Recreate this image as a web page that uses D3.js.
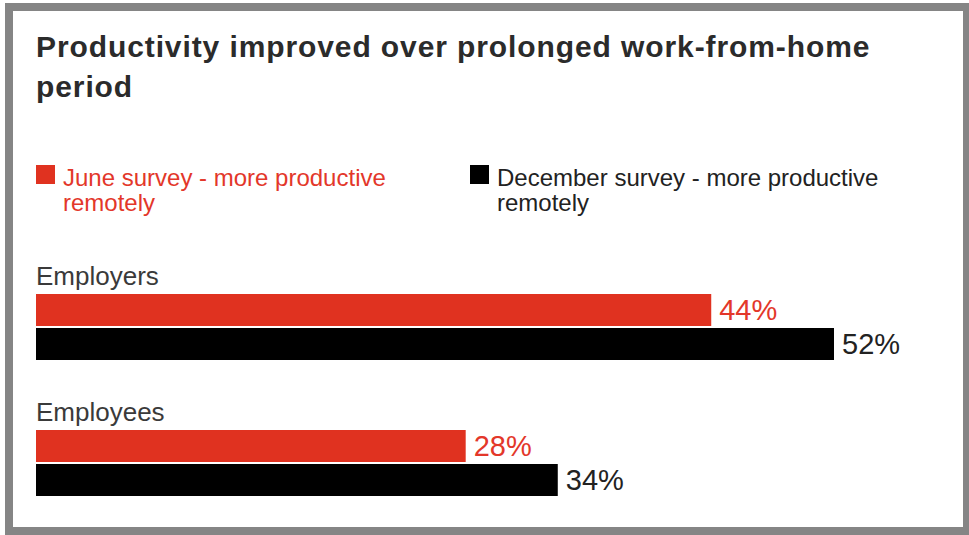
<!DOCTYPE html>
<html>
<head>
<meta charset="utf-8">
<script src="https://cdn.jsdelivr.net/npm/d3@7"></script>
<style>
  html, body { margin: 0; padding: 0; background: #fff; }
  svg { display: block; }
</style>
</head>
<body>
<div id="chart"></div>
<script>
// chart data
const categories = ["Employers", "Employees"];
const seriesNames = ["June survey - more productive remotely", "December survey - more productive remotely"];
const juneValues = [44, 28];
const decemberValues = [52, 34];
const seriesColors = ["#e03220", "#000000"];
const labelColors = ["#e3372a", "#222222"];

const width = 969, height = 535;

const svg = d3.select("#chart")
  .append("svg")
  .attr("width", width)
  .attr("height", height);

// grey frame
svg.append("rect")
  .attr("x", 9).attr("y", 7)
  .attr("width", 958).attr("height", 524)
  .attr("fill", "#fff")
  .attr("stroke", "#858585")
  .attr("stroke-width", 8);

// title
const title = svg.append("text")
  .attr("x", 36)
  .attr("font-family", "Liberation Sans, Arial, sans-serif")
  .attr("font-weight", "bold")
  .attr("font-size", "30px")
  .attr("letter-spacing", "0.9px")
  .attr("fill", "#2b2b2b");
title.append("tspan").attr("x", 36).attr("y", 57).text("Productivity improved over prolonged work-from-home");
title.append("tspan").attr("x", 36).attr("y", 97).text("period");

// legend
const legendX = [36, 470];
const legendLines = [["June survey - more productive", "remotely"], ["December survey - more productive", "remotely"]];
seriesNames.forEach((name, i) => {
  const g = svg.append("g").attr("transform", `translate(${legendX[i]},0)`);
  g.append("rect")
    .attr("x", 0).attr("y", 165)
    .attr("width", 19).attr("height", 19)
    .attr("fill", seriesColors[i]);
  const t = g.append("text")
    .attr("font-family", "Liberation Sans, Arial, sans-serif")
    .attr("font-size", "24px")
    .attr("fill", labelColors[i]);
  legendLines[i].forEach((line, j) => {
    t.append("tspan").attr("x", 27).attr("y", 186 + j * 25).text(line);
  });
});

// scales
const rows = categories.map((c, i) => ({
  category: c,
  values: [juneValues[i], decemberValues[i]]
}));

const y0 = d3.scaleBand()
  .domain(categories)
  .range([294, 496])
  .paddingInner(70 / 136);

const y1 = d3.scaleBand()
  .domain(d3.range(seriesNames.length))
  .range([0, y0.bandwidth()])
  .paddingInner(2 / 34);

const x = d3.scaleLinear()
  .domain([0, d3.max(decemberValues)])
  .range([36, 834]);

const groups = svg.selectAll(".group")
  .data(rows)
  .enter()
  .append("g")
  .attr("class", "group")
  .attr("transform", d => `translate(0,${y0(d.category)})`);

// category labels
groups.append("text")
  .attr("x", 36)
  .attr("y", -9)
  .attr("font-family", "Liberation Sans, Arial, sans-serif")
  .attr("font-size", "26px")
  .attr("fill", "#3a3a3a")
  .text(d => d.category);

const bars = groups.selectAll(".bar")
  .data(d => d.values.map((v, i) => ({ series: i, value: v })))
  .enter();

bars.append("rect")
  .attr("class", "bar")
  .attr("x", x(0))
  .attr("y", d => y1(d.series))
  .attr("width", d => x(d.value) - x(0))
  .attr("height", y1.bandwidth())
  .attr("fill", d => seriesColors[d.series]);

bars.append("text")
  .attr("x", d => x(d.value) + 8)
  .attr("y", d => y1(d.series) + y1.bandwidth() / 2 + 10)
  .attr("font-family", "Liberation Sans, Arial, sans-serif")
  .attr("font-size", "29px")
  .attr("fill", d => labelColors[d.series])
  .text(d => d.value + "%");
</script>
</body>
</html>
